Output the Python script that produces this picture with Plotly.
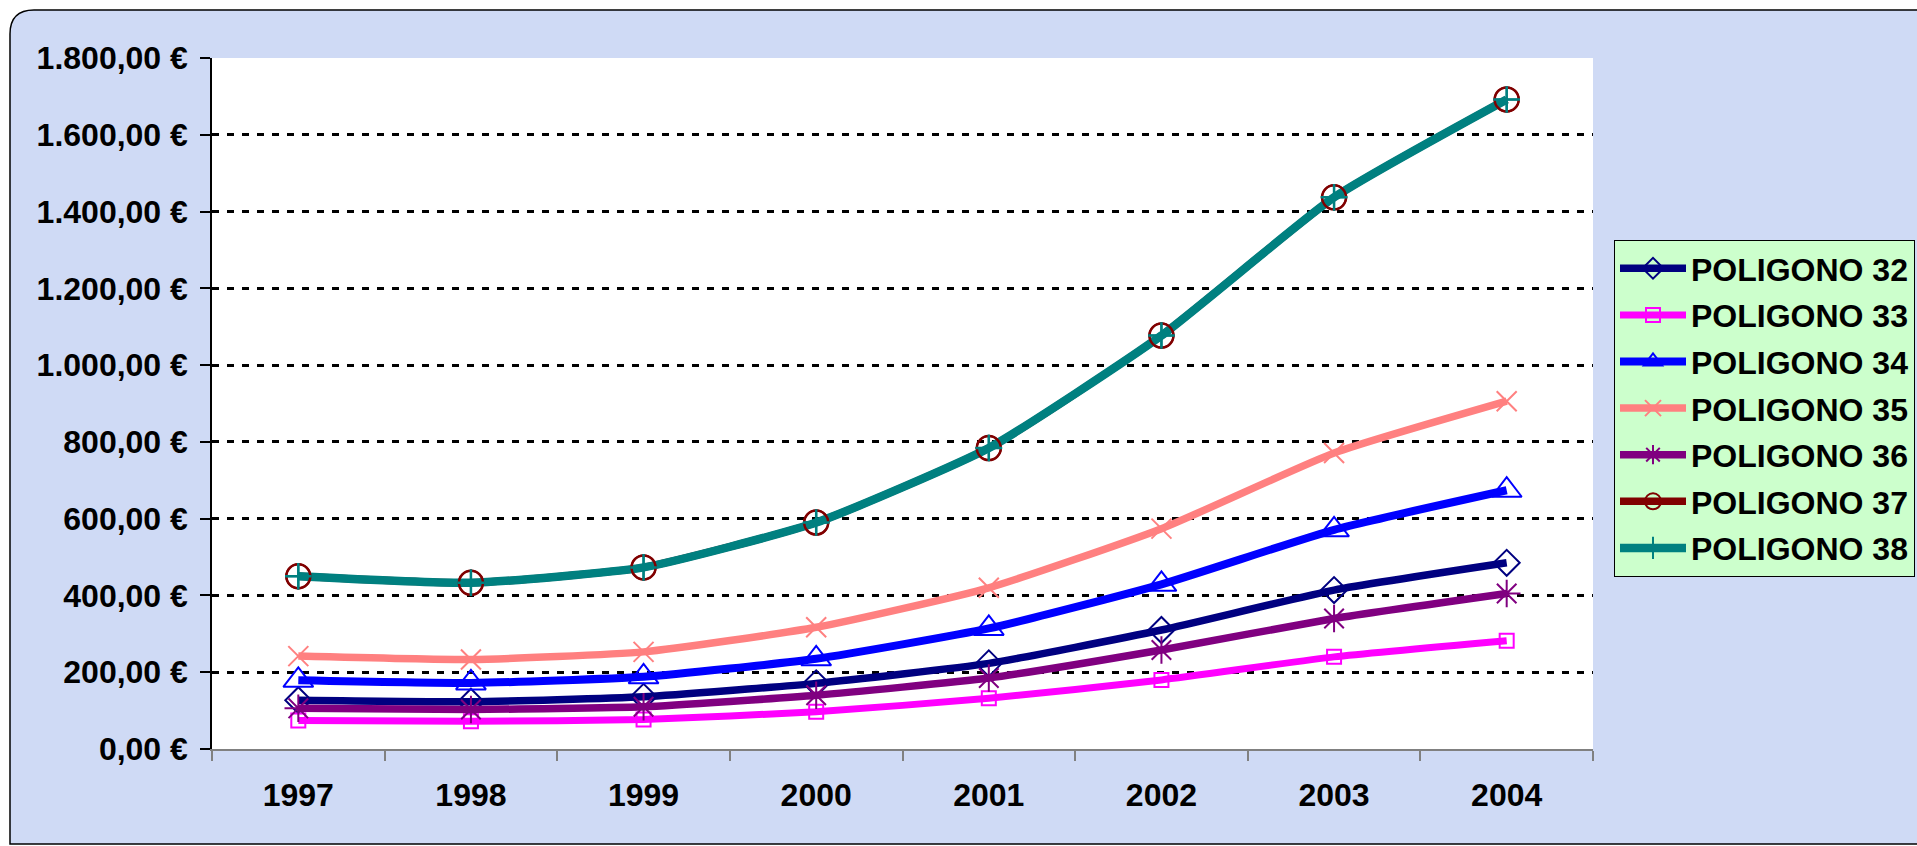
import plotly.graph_objects as go

# Years and values (euros)
years = ['1997', '1998', '1999', '2000', '2001', '2002', '2003', '2004']
series_names = ['POLIGONO 32', 'POLIGONO 33', 'POLIGONO 34', 'POLIGONO 35',
                'POLIGONO 36', 'POLIGONO 37', 'POLIGONO 38']

p32 = [127, 123, 136, 171, 223, 310, 414, 485]
p33 = [74, 72, 77, 97, 132, 180, 240, 282]
p34 = [179, 172, 188, 235, 314, 429, 571, 674]
p35 = [242, 233, 253, 317, 420, 574, 771, 906]
p36 = [106, 103, 110, 140, 185, 258, 340, 405]
p37 = [450, 433, 473, 590, 784, 1077, 1437, 1692]
p38 = [450, 433, 473, 590, 784, 1077, 1437, 1692]

y_tickvals = [0, 200, 400, 600, 800, 1000, 1200, 1400, 1600, 1800]
y_ticktext = ['0,00 €', '200,00 €', '400,00 €', '600,00 €', '800,00 €',
              '1.000,00 €', '1.200,00 €', '1.400,00 €', '1.600,00 €', '1.800,00 €']

# Styling per series
colors = ['#000080', '#FF00FF', '#0000FF', '#FF8080', '#800080', '#800000', '#008080']
symbols = ['diamond-open', 'square-open', 'triangle-up-open', 'x-thin-open',
           'asterisk-open', 'circle-open', 'cross-thin-open']
msizes = [20, 14, 26, 20, 23, 24, 19]
lwidths = [7.5, 7, 8, 7.5, 7.5, 7.5, 8.5]
values = [p32, p33, p34, p35, p36, p37, p38]

W, H = 1917, 846
ML, MR, MT, MB = 212, 324, 58, 97
PW, PH = W - ML - MR, H - MT - MB

def px_x(x):
    return (x - ML) / PW

def px_y(y):
    return (H - MB - y) / PH

fig = go.Figure()

for i, name in enumerate(series_names):
    fig.add_trace(go.Scatter(
        x=years, y=values[i], name=name, mode='lines+markers',
        legendgroup=name,
        line=dict(color=colors[i], width=lwidths[i], shape='spline', smoothing=0.5),
        marker=dict(symbol=symbols[i], size=msizes[i], color=colors[i],
                    line=dict(color=colors[i], width=2)),
    ))

# Excel paints markers after all lines: put 37/38 markers back on top
for i in (5, 6):
    fig.add_trace(go.Scatter(
        x=years, y=values[i], mode='markers', showlegend=False, hoverinfo='skip',
        marker=dict(symbol=symbols[i], size=msizes[i], color=colors[i],
                    line=dict(color=colors[i], width=2.5)),
    ))

# Rounded chart frame with lavender fill, then white plot area
x0, x1, y0, y1, r = 10, W + 15, 10, 844, 24
frame = (f"M {px_x(x0)},{px_y(y0 + r)} "
         f"Q {px_x(x0)},{px_y(y0)} {px_x(x0 + r)},{px_y(y0)} "
         f"L {px_x(x1)},{px_y(y0)} L {px_x(x1)},{px_y(y1)} "
         f"L {px_x(x0)},{px_y(y1)} Z")
fig.add_shape(type='path', path=frame, xref='paper', yref='paper', layer='below',
              fillcolor='#CFDAF5', line=dict(color='black', width=1.5))
fig.add_shape(type='rect', xref='x domain', yref='y domain', x0=0, x1=1, y0=0, y1=1,
              layer='below', fillcolor='white', line=dict(width=0))

fnt = dict(family='Liberation Sans, Arial, sans-serif', size=32, color='black', weight='bold')

fig.update_layout(
    width=W, height=H,
    margin=dict(l=ML, r=MR, t=MT, b=MB, autoexpand=False),
    paper_bgcolor='white', plot_bgcolor='white',
    font=fnt,
    showlegend=True,
    legend=dict(
        x=px_x(1614), y=px_y(240), xanchor='left', yanchor='top',
        bgcolor='#CCFFCC', bordercolor='black', borderwidth=1,
        font=fnt, itemwidth=66, traceorder='grouped', tracegroupgap=2,
    ),
    xaxis=dict(
        type='category', tickson='boundaries', ticks='outside', ticklen=10,
        tickcolor='#808080', tickwidth=1.5, showline=True, linecolor='#808080',
        linewidth=2, showgrid=False, ticklabelstandoff=17, tickfont=fnt,
        range=[-0.5, 7.5],
    ),
    yaxis=dict(
        range=[0, 1800], tickvals=y_tickvals, ticktext=y_ticktext,
        ticks='outside', ticklen=10, tickcolor='black', tickwidth=1.5,
        showline=True, linecolor='black', linewidth=1.5,
        showgrid=True, gridcolor='black', gridwidth=3, griddash='7px,8px',
        zeroline=False, ticklabelstandoff=6, tickfont=fnt,
    ),
)

fig.write_html("out.html", config={'displayModeBar': False},
               post_script="document.body.style.margin='0';document.body.style.overflow='hidden';")
